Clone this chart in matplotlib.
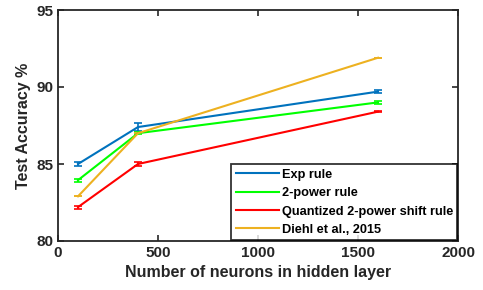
import numpy as np
import matplotlib.pyplot as plt

plt.rcParams['font.family'] = ['Liberation Sans', 'DejaVu Sans']
plt.rcParams['font.weight'] = 'bold'

# neurons in hidden layer
neurons = [100, 400, 1600]

exp_acc = [85.0, 87.4, 89.7]
exp_err = [0.12, 0.25, 0.12]
pow2_acc = [83.95, 87.0, 89.0]
pow2_err = [0.1, 0.08, 0.12]
quant_acc = [82.2, 85.0, 88.4]
quant_err = [0.1, 0.15, 0.05]
diehl_acc = [82.9, 87.0, 91.9]
diehl_err = [0.0, 0.0, 0.0]

labels = ['Exp rule', '2-power rule', 'Quantized 2-power shift rule', 'Diehl et al., 2015']
colors = ['#0072BD', '#00FF00', '#FF0000', '#EDB120']

fig = plt.figure(figsize=(4.83, 2.9), dpi=100)
ax = fig.add_axes([58/483, 1 - 241/290, 400/483, 231/290])

series = [(exp_acc, exp_err), (pow2_acc, pow2_err), (quant_acc, quant_err), (diehl_acc, diehl_err)]
for (acc, err), lab, c in zip(series, labels, colors):
    ax.errorbar(neurons, acc, yerr=err, color=c, lw=1.5, capsize=3,
                capthick=1.2, elinewidth=1.2, label=lab)

ax.set_xlim(0, 2000)
ax.set_ylim(80, 95)
ax.set_xticks([0, 500, 1000, 1500, 2000])
ax.set_yticks([80, 85, 90, 95])
ax.tick_params(direction='in', top=True, right=True, labelsize=11, length=4, width=1.2, colors='#262626')
for s in ax.spines.values():
    s.set_linewidth(1.3)
    s.set_color('#262626')

ax.set_xlabel('Number of neurons in hidden layer', fontsize=11.5, fontweight='bold', color='#262626')
ax.set_ylabel('Test Accuracy %', fontsize=11.5, fontweight='bold', color='#262626')

# legend handles without error caps
handles = [plt.Line2D([], [], color=c, lw=1.5) for c in colors]
leg = ax.legend(handles, labels, loc='lower right', fontsize=9.2, frameon=True, fancybox=False,
                borderaxespad=0.05, handlelength=3.4, handletextpad=0.2, labelspacing=0.5,
                borderpad=0.35)
leg.get_frame().set_edgecolor('black')
leg.get_frame().set_linewidth(1.3)

fig.savefig('out.png', dpi=100)
